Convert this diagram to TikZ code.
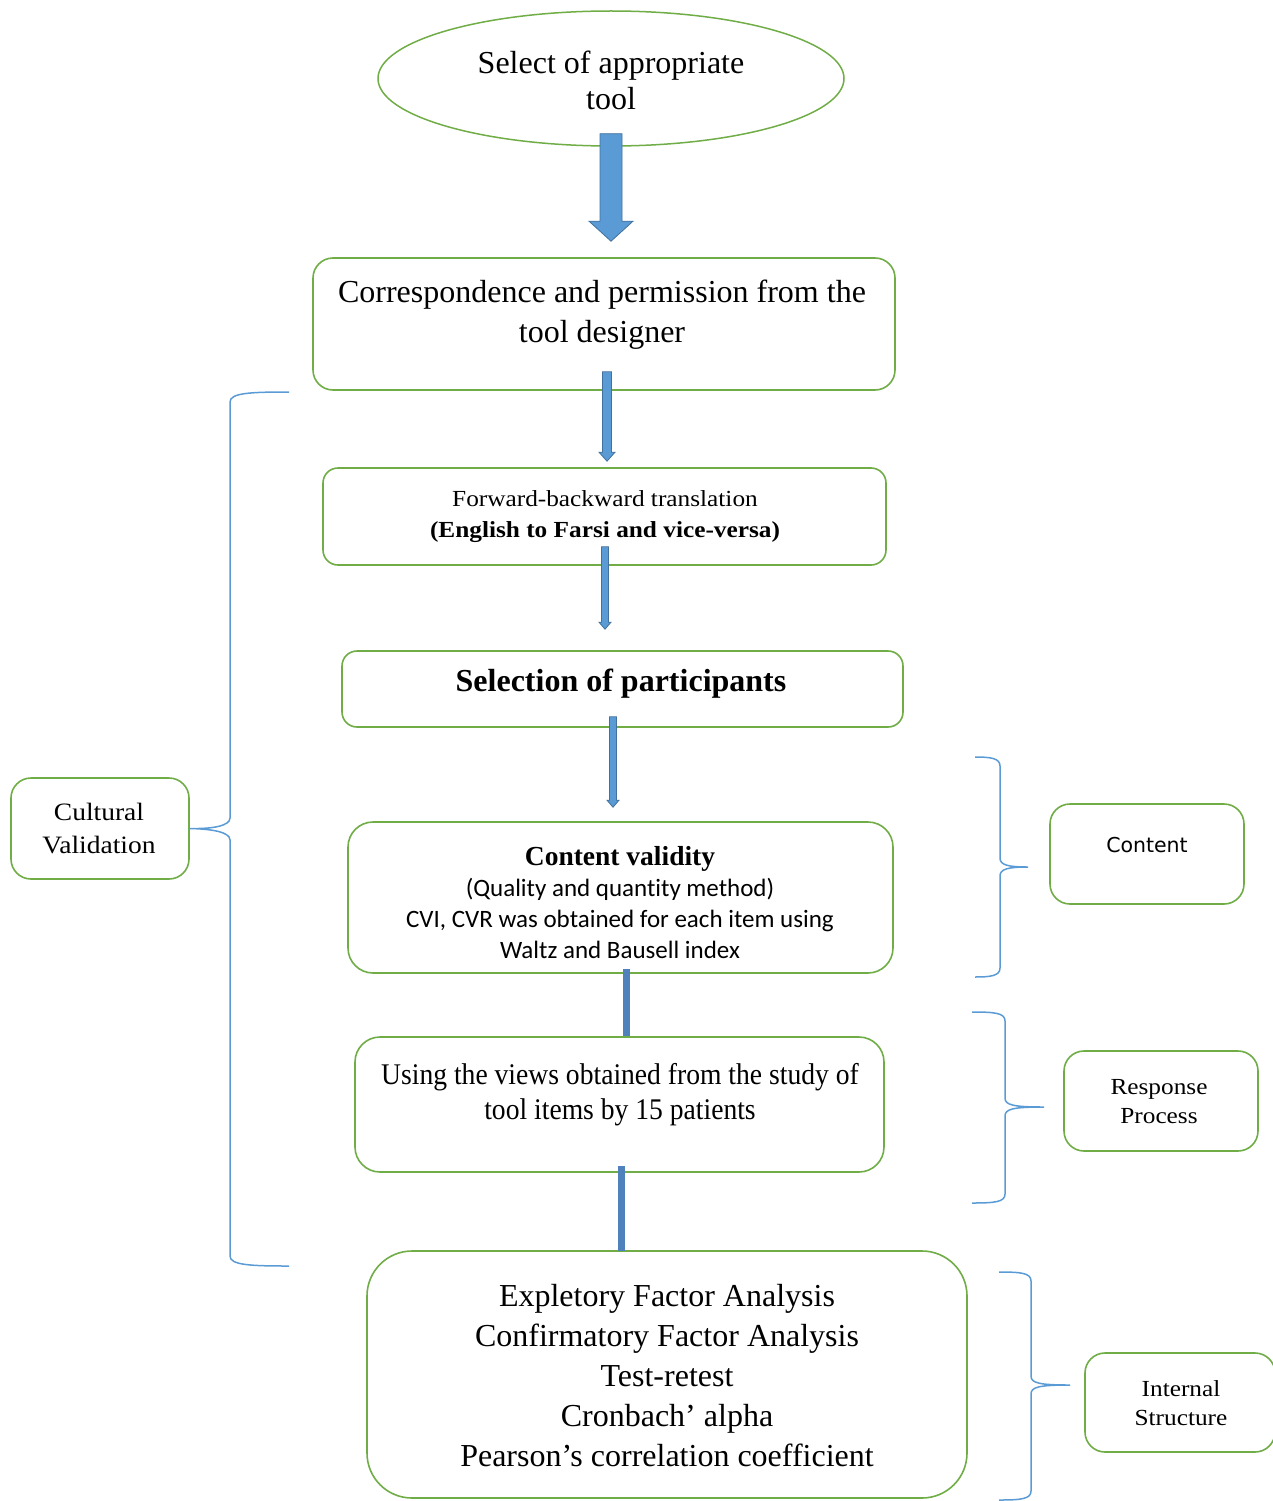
\documentclass[tikz,border=0pt]{standalone}
\usepackage{fontspec}
\setmainfont{Liberation Serif}
\newfontfamily\wideserif[FakeStretch=1.1]{Liberation Serif}
\newfontfamily\midserif[FakeStretch=1.1]{Liberation Serif}
\newfontfamily\narrowserif[FakeStretch=0.92]{Liberation Serif}
\newfontfamily\calib[Ligatures=NoCommon]{Carlito}
\newfontfamily\dvsans{DejaVu Sans}
\usetikzlibrary{shapes.geometric,calc}
\definecolor{boxgreen}{HTML}{70AD47}
\definecolor{arrfill}{HTML}{5B9BD5}
\definecolor{arrline}{HTML}{41719C}
\definecolor{linkblue}{HTML}{4F81BD}
\definecolor{bracecol}{HTML}{5B9BD5}
\tikzset{
  box/.style={draw=boxgreen, line width=1.6pt, rounded corners=#1, inner sep=0pt},
  txt/.style={align=center, inner sep=0pt, text=black},
  blockarr/.style={fill=arrfill, draw=arrline, line width=0.8pt, line join=miter},
  linkline/.style={draw=linkblue, line width=7pt},
  bracepath/.style={draw=bracecol, line width=1.5pt},
}
% #1 start, #2 tip, #3 half shaft, #4 half head, #5 head length
\newcommand\flowarrow[5]{%
  \draw[blockarr] ($(#1)+(-#3,0)$) -- ($(#2)+(-#3,-#5)$) -- ($(#2)+(-#4,-#5)$) -- (#2)
    -- ($(#2)+(#4,-#5)$) -- ($(#2)+(#3,-#5)$) -- ($(#1)+(#3,0)$) -- cycle;}
% right-facing brace: #1 x of arm ends, #2 y top, #3 x spine, #4 tip coord name, #5 y bottom, #6 tip y
\newcommand\rightbrace[6]{%
  \draw[bracepath] (#1,#2) .. controls ({#3-10},#2) and (#3,{#2+1}) .. (#3,{#2+9})
    -- (#3,{#6-9}) .. controls (#3,{#6-2}) and ({#3+8},#6) .. (#4)
    .. controls ({#3+8},#6) and (#3,{#6+2}) .. (#3,{#6+9})
    -- (#3,{#5-9}) .. controls (#3,{#5-1}) and ({#3-10},#5) .. (#1,#5);}
\begin{document}
\begin{tikzpicture}[x=1pt,y=-1pt]
\useasboundingbox (0,0) rectangle (1273,1501);

% main flow nodes
\node[draw=boxgreen, line width=1.5pt, ellipse, minimum width=466pt, minimum height=135pt, inner sep=0pt] (b1) at (611,78.5) {};
\node[txt, font=\fontsize{32}{36}\selectfont] (t1) at (611,80) {Select of appropriate\\tool};

\node[box=20pt, minimum width=582pt, minimum height=132pt] (b2) at (604,324) {};
\node[txt, font=\fontsize{32}{40}\selectfont] (t2) at (602,315) {Correspondence and permission from the\\tool designer};

\node[box=15pt, minimum width=563pt, minimum height=97pt] (b3) at (604.5,516.5) {};
\node[txt, font=\midserif\fontsize{23}{31}\selectfont] (t3) at (605,517) {Forward-backward translation\\\textbf{(English to Farsi and vice-versa)}};

\node[box=15pt, minimum width=561pt, minimum height=76pt] (b4) at (622.5,689) {};
\node[txt, font=\fontsize{32}{38}\selectfont\bfseries] (t4) at (621,684) {Selection of participants};

\node[box=25pt, minimum width=545pt, minimum height=151pt] (b5) at (620.5,897.5) {};
\node[txt, font=\fontsize{25}{31}\selectfont] (t5) at (620,903) {{\fontsize{27.5}{31}\selectfont\bfseries Content validity}\\{\calib (Quality and quantity method)}\\{\calib CVI, CVR was obtained for each item using}\\{\calib Waltz and Bausell index}};

\node[box=25pt, minimum width=529pt, minimum height=135pt] (b6) at (619.5,1104.5) {};
\node[txt, font=\narrowserif\fontsize{30}{35}\selectfont] (t6) at (620,1095) {Using the views obtained from the study of\\tool items by 15 patients};

\node[box=45pt, minimum width=600pt, minimum height=247pt] (b7) at (667,1374.5) {};
\node[txt, font=\fontsize{32}{40}\selectfont] (t7) at (667,1376) {Expletory Factor Analysis\\Confirmatory Factor Analysis\\Test-retest\\Cronbach’ alpha\\Pearson’s correlation coefficient};

% side nodes
\node[box=20pt, minimum width=178pt, minimum height=101pt] (cv) at (100,828.5) {};
\node[txt, font=\wideserif\fontsize{25}{33}\selectfont] (tcv) at (99,829) {Cultural\\Validation};

\node[box=20pt, minimum width=194pt, minimum height=100pt] (ct) at (1147,854) {};
\node[txt, font=\dvsans\fontsize{20.5}{25}\selectfont] (tct) at (1147,845) {Content};

\node[box=20pt, minimum width=194pt, minimum height=100pt] (rp) at (1161,1101) {};
\node[txt, font=\wideserif\fontsize{23}{29}\selectfont] (trp) at (1159,1102) {Response\\Process};

\node[box=20pt, minimum width=190pt, minimum height=99pt] (is) at (1180,1402.5) {};
\node[txt, font=\wideserif\fontsize{23}{29}\selectfont] (tis) at (1181,1403) {Internal\\Structure};

% connectors
\coordinate (a1s) at ($(b1.south)+(0,-13)$);
\coordinate (a1e) at ($(b2.north)+(7,-16)$);
\flowarrow{a1s}{a1e}{11}{22}{20}

\coordinate (a2s) at ($(b2.south)+(3,-19)$);
\coordinate (a2e) at ($(b3.north)+(2.5,-6)$);
\flowarrow{a2s}{a2e}{4.5}{8}{9}

\coordinate (a3s) at ($(b3.south)+(0.5,-19)$);
\coordinate (a3e) at ($(b4.north)+(-17.5,-21)$);
\flowarrow{a3s}{a3e}{3.5}{6}{7}

\coordinate (a4s) at ($(b4.south)+(-9.5,-11)$);
\coordinate (a4e) at ($(b5.north)+(-7.5,-14)$);
\flowarrow{a4s}{a4e}{3.5}{6}{7}

\draw[linkline] ($(b5.south)+(5.5,-5)$) -- ($(b6.north)+(6.5,0)$);
\draw[linkline] ($(b6.south)+(1.5,-7)$) -- ($(b7.north)+(-46,1)$);

% braces
\draw[bracepath] (289,392) .. controls (250,392) and (230,393) .. (230,402)
  -- (230,818) .. controls (230,826) and (212,829) .. (cv.east)
  .. controls (212,829) and (230,832) .. (230,840)
  -- (230,1256) .. controls (230,1265) and (250,1266) .. (289,1266);

\coordinate (ctip) at (1028,867);
\rightbrace{975}{757}{1000}{ctip}{977}{867}
\coordinate (rtip) at (1044,1107);
\rightbrace{972}{1012}{1005}{rtip}{1203}{1107}
\coordinate (itip) at (1070,1385);
\rightbrace{999}{1272}{1031}{itip}{1500}{1385}
\end{tikzpicture}
\end{document}
